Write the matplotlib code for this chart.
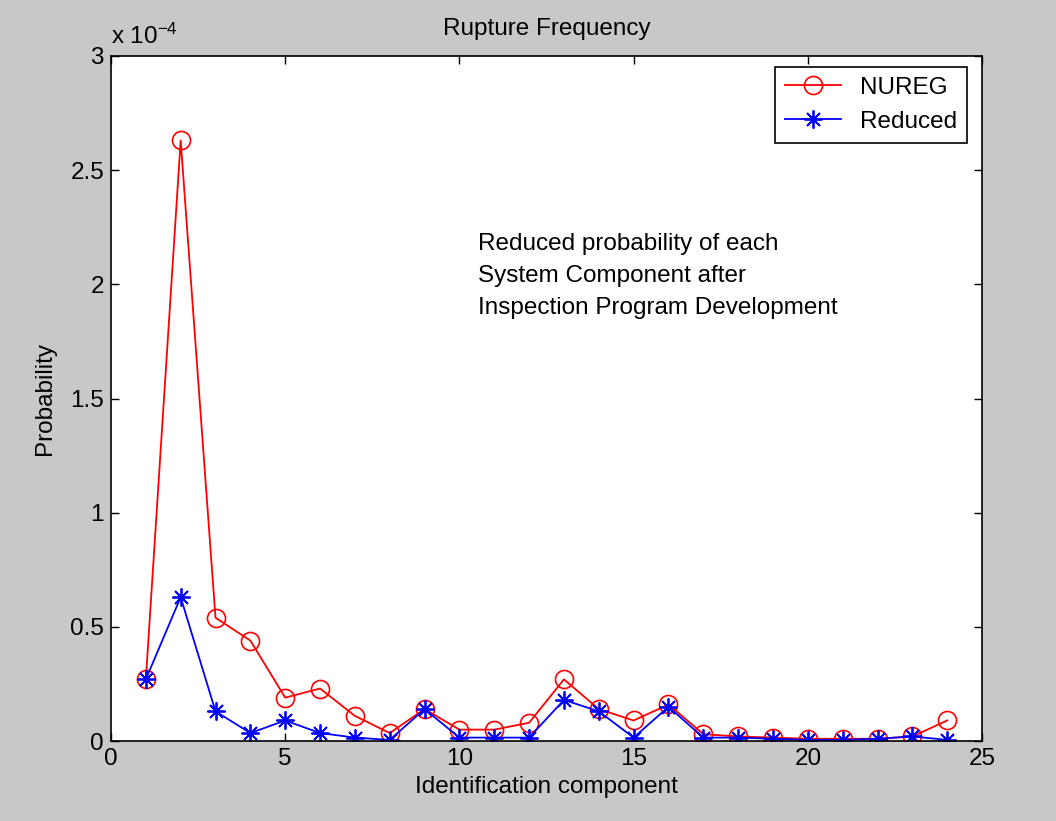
import numpy as np
import matplotlib.pyplot as plt

plt.rcParams['font.family'] = ['Liberation Sans', 'DejaVu Sans']

# component ids and rupture probabilities (units of 1e-4)
components = np.arange(1, 25)
nureg = [0.27, 2.63, 0.54, 0.44, 0.19, 0.23, 0.11, 0.035, 0.14, 0.05, 0.05, 0.08,
         0.27, 0.14, 0.09, 0.16, 0.03, 0.02, 0.015, 0.01, 0.01, 0.01, 0.02, 0.09]
reduced = [0.27, 0.63, 0.13, 0.035, 0.09, 0.035, 0.015, 0.005, 0.14, 0.015, 0.015, 0.015,
           0.18, 0.13, 0.015, 0.15, 0.015, 0.015, 0.01, 0.005, 0.005, 0.01, 0.02, 0.005]

fs = 17.5

fig = plt.figure(figsize=(10.56, 8.21), dpi=100, facecolor='#c8c8c8')
ax = fig.add_axes([0.1051, 0.0974, 0.8249, 0.8344])
ax.set_facecolor('white')

ax.plot(components, nureg, color='red', marker='o', markersize=13, markerfacecolor='none',
        markeredgewidth=1.2, linewidth=1.3, label='NUREG')
ax.plot(components, reduced, color='blue', marker=(8, 2, 0), markersize=13, markeredgewidth=1.3,
        linewidth=1.3, label='Reduced')

ax.set_xlim(0, 25)
ax.set_ylim(0, 3)
ax.set_xticks([0, 5, 10, 15, 20, 25])
ax.set_yticks([0, 0.5, 1, 1.5, 2, 2.5, 3])
ax.set_yticklabels(['0', '0.5', '1', '1.5', '2', '2.5', '3'])
ax.tick_params(direction='in', top=True, right=True, labelsize=fs, length=6, width=1, pad=5)
for s in ax.spines.values():
    s.set_linewidth(1.2)

ax.text(0.0, 1.01, r'x 10$\mathregular{^{-4}}$', transform=ax.transAxes, fontsize=fs,
        ha='left', va='bottom')
ax.set_title('Rupture Frequency', fontsize=fs, pad=15)
ax.set_xlabel('Identification component', fontsize=fs, labelpad=4)
ax.set_ylabel('Probability', fontsize=fs, labelpad=10)

ax.text(0.421, 0.742, 'Reduced probability of each\nSystem Component after\nInspection Program Development',
        transform=ax.transAxes, fontsize=fs, va='top', ha='left', linespacing=1.6)

leg = ax.legend(loc='upper right', fontsize=fs, fancybox=False, edgecolor='black',
                framealpha=1, borderpad=0.4, handlelength=2.3, handletextpad=0.8,
                labelspacing=0.5, borderaxespad=0, bbox_to_anchor=(0.983, 0.984))
leg.get_frame().set_linewidth(1.2)

fig.savefig('out.png', dpi=100, facecolor=fig.get_facecolor())
